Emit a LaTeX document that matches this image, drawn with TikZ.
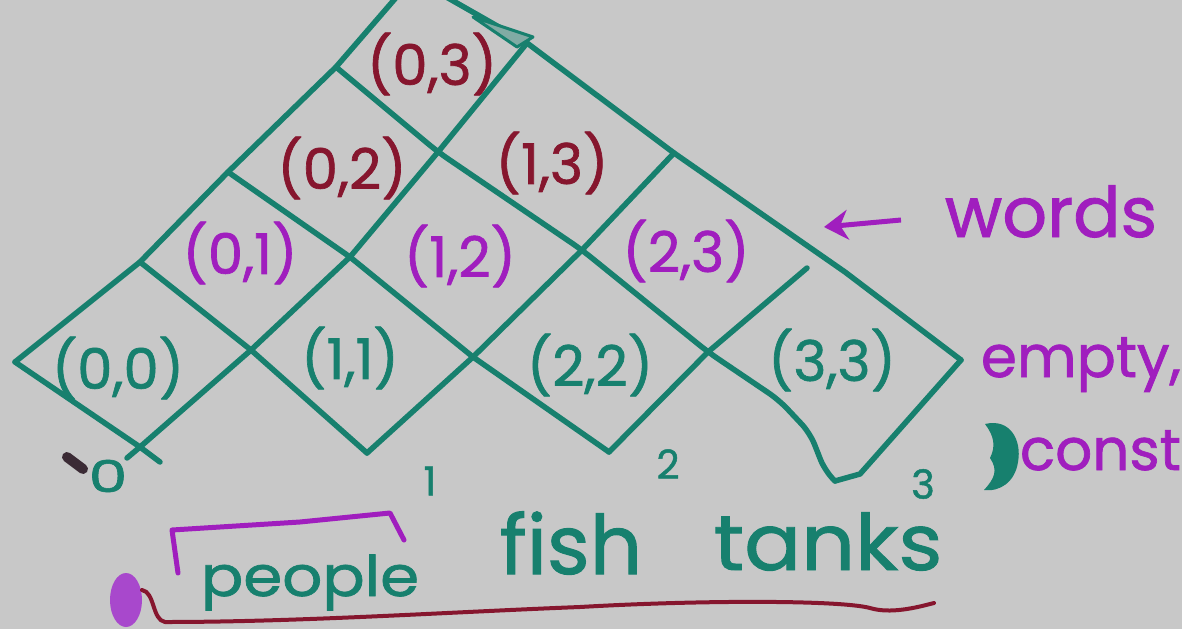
\documentclass[tikz,border=0pt]{standalone}
\usepackage{fontspec}
\setmainfont{Poppins}[FakeBold=1.2]
\usetikzlibrary{arrows.meta}
\definecolor{tealpen}{HTML}{17806E}
\definecolor{purplepen}{HTML}{A01EBE}
\definecolor{redpen}{HTML}{86162E}
\definecolor{board}{HTML}{C8C8C8}
\definecolor{smudge}{HTML}{3B2B35}
\definecolor{blobpurple}{HTML}{A848CC}
\begin{document}
\begin{tikzpicture}[x=1pt,y=-1pt,
  gridline/.style={draw=tealpen, line width=5.5pt, line cap=round, line join=round},
  lbl/.style={font=\fontsize{56}{60}\selectfont, inner sep=0pt},
  word/.style={inner sep=0pt, anchor=base},
  idx/.style={font=\fontsize{40}{44}\selectfont, inner sep=0pt, text=tealpen}]
\useasboundingbox (0,0) rectangle (1182,629);
\fill[board] (0,0) rectangle (1182,629);
\begin{scope}
\clip (0,0) rectangle (1182,629);
% lattice points
\coordinate (p00) at (140,447);
\coordinate (p01) at (15,362);
\coordinate (p1m1) at (367,453);
\coordinate (p10) at (251,350);
\coordinate (p11) at (140,262);
\coordinate (p2m2) at (609,452);
\coordinate (p2m1) at (473,357);
\coordinate (p20) at (350,257);
\coordinate (p21) at (228,172);
\coordinate (p3m3) at (835,481);
\coordinate (p3m2) at (708,352);
\coordinate (p3m1) at (582,250);
\coordinate (p30) at (438,152);
\coordinate (p31) at (336,67);
\coordinate (p4m3) at (961,360);
\coordinate (p4m2) at (845,272);
\coordinate (p4m1) at (674,153);
\coordinate (p40) at (527,43);
\coordinate (p41) at (413,-22);
\coordinate (tail0a) at (127,458);
\coordinate (tail0b) at (160,462);
\coordinate (gapend) at (807,268);
\coordinate (w1) at (779,400);
\coordinate (w2) at (810,433);
\coordinate (w2b) at (825,471);
\coordinate (w3) at (860,474);
% up-right lines
\draw[gridline] (p01) -- (p11) -- (p21) -- (p31) -- (p41);
\draw[gridline] (tail0a) -- (p00) -- (p10) -- (p20) -- (p30) -- (p40);
\draw[gridline] (p1m1) -- (p2m1) -- (p3m1) -- (p4m1);
\draw[gridline] (p2m2) -- (p3m2) -- (gapend);
\draw[gridline] (p3m3) -- (w3) -- (p4m3);
% down-right lines
\draw[gridline] (p01) -- (p00) -- (tail0b);
\draw[gridline] (p11) -- (p10) -- (p1m1);
\draw[gridline] (p21) -- (p20) -- (p2m1) -- (p2m2);
\draw[gridline, rounded corners=12pt] (p31) -- (p30) -- (p3m1) -- (p3m2) -- (w1) -- (w2) -- (w2b) -- (p3m3);
\draw[gridline] (p41) -- (p40) -- (p4m1) -- (p4m2) -- (p4m3);
% small mark near the top
\draw[tealpen, line width=3pt, line join=round, fill=tealpen!40!board] (473,17) -- (533,37) -- (517,47) -- cycle;
\end{scope}
% cell labels
\node[lbl, text=redpen] (c03) at (432,64) {(0,3)};
\node[lbl, text=redpen] (c02) at (342,168) {(0,2)};
\node[lbl, text=redpen] (c13) at (552,163) {(1,3)};
\node[lbl, text=purplepen] (c01) at (240,253) {(0,1)};
\node[lbl, text=purplepen] (c12) at (460,256) {(1,2)};
\node[lbl, text=purplepen] (c23) at (686,251) {(2,3)};
\node[lbl, text=tealpen] (c00) at (118,368) {(0,0)};
\node[lbl, text=tealpen] (c11) at (350,358) {(1,1)};
\node[lbl, text=tealpen] (c22) at (590,365) {(2,2)};
\node[lbl, text=tealpen] (c33) at (832,360) {(3,3)};
% position indices
\node[idx, font=\fontsize{44}{48}\selectfont, xscale=1.4] (n0) at (108,476) {0};
\node[idx] (n1) at (430,481) {1};
\node[idx] (n2) at (668,464) {2};
\node[idx] (n3) at (923,484) {3};
% smudges
\draw[smudge, line width=10pt, line cap=round] (67,457) -- (83,469);
\fill[blobpurple] (126,600) ellipse [x radius=16, y radius=27];
\fill[tealpen] (985,424) .. controls (1010,418) and (1022,440) .. (1018,462)
  .. controls (1015,482) and (1000,492) .. (984,490)
  .. controls (995,478) and (998,470) .. (990,458)
  .. controls (996,446) and (994,436) .. (985,424) -- cycle;
% sentence
\node[word, text=tealpen, font=\fontsize{56}{60}\selectfont, xscale=1.12] (people) at (310,596) {people};
\node[word, text=tealpen, font=\fontsize{82}{86}\selectfont] (fish) at (571,574) {fish};
\node[word, text=tealpen, font=\fontsize{78}{82}\selectfont, xscale=1.08] (tanks) at (828,570) {tanks};
\draw[purplepen, line width=5pt, line join=round, line cap=round]
  (178,573) -- (172,530) -- (300,522) -- (390,513) -- (404,540);
\draw[redpen, line width=4pt, line cap=round, line join=round]
  (142,590) .. controls (155,592) and (152,620) .. (165,622)
  .. controls (300,622) and (450,612) .. (580,607)
  .. controls (700,600) and (840,600) .. (870,608)
  .. controls (890,614) and (915,608) .. (934,603);
% annotations
\node[word, text=purplepen, font=\fontsize{70}{74}\selectfont] (words) at (1051,237) {words};
\coordinate (arrowstart) at (901,220);
\coordinate (arrowend) at (824,227);
\draw[purplepen, line width=5pt, -{Stealth[length=24pt,width=30pt]}] (arrowstart) -- (arrowend);
\node[word, text=purplepen, font=\fontsize{58}{62}\selectfont] (empty) at (1081,377) {empty,};
\node[word, text=purplepen, font=\fontsize{58}{62}\selectfont, anchor=base east] (const) at (1181,470) {const};
\end{tikzpicture}
\end{document}
